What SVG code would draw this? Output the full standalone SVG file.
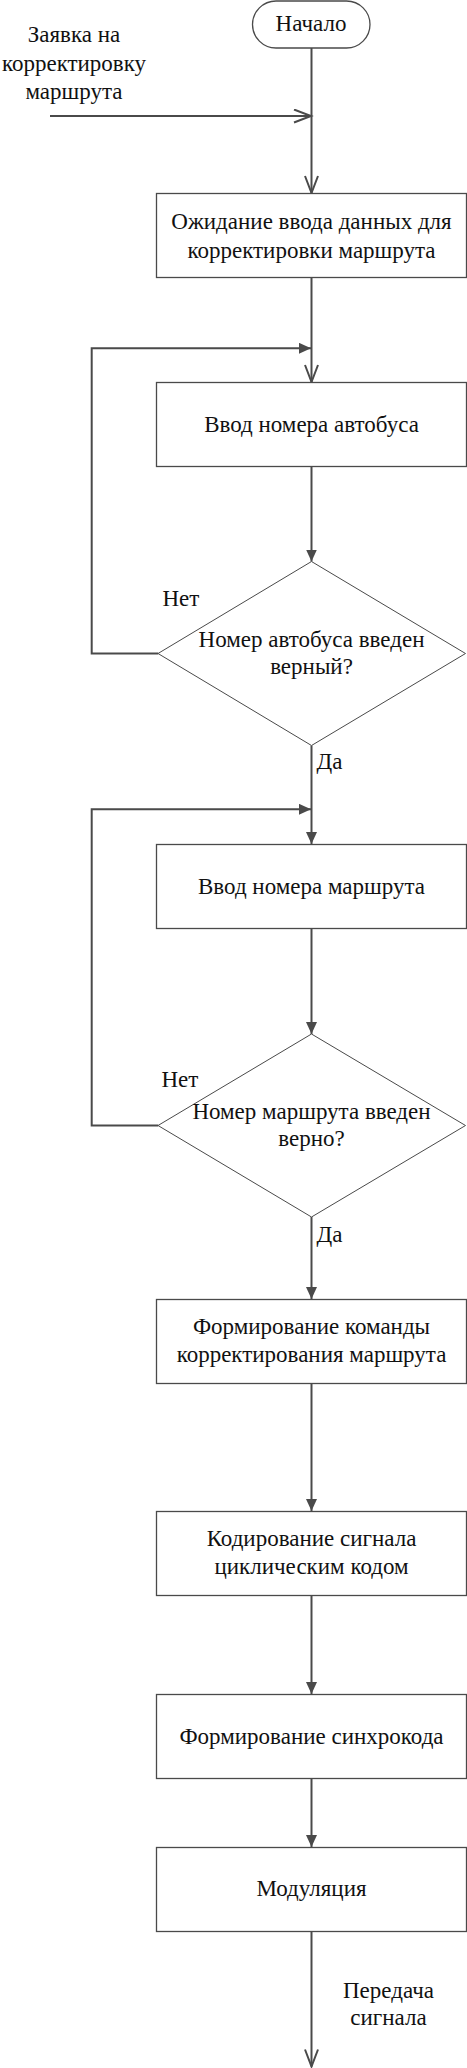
<svg xmlns="http://www.w3.org/2000/svg" width="467" height="2068" viewBox="0 0 467 2068">
<style>
text{font-family:"Liberation Serif","Times New Roman",serif;font-size:23px;fill:#111;}
.c{text-anchor:middle;}
.box{fill:#fff;stroke:#4a4a4a;stroke-width:1.3;}
.dia{fill:#fff;stroke:#4a4a4a;stroke-width:1;}
.ln{fill:none;stroke:#4a4a4a;stroke-width:2;}
</style>
<defs>
<marker id="open" markerUnits="userSpaceOnUse" markerWidth="22" markerHeight="18" refX="18" refY="7.5" orient="auto">
<path d="M1,1 L18,7.5 L1,14" fill="none" stroke="#4a4a4a" stroke-width="2"/>
</marker>
<marker id="fill" markerUnits="userSpaceOnUse" markerWidth="14" markerHeight="12" refX="12" refY="5.5" orient="auto">
<path d="M0,0 L12,5.5 L0,11 Z" fill="#4a4a4a"/>
</marker>
</defs>
<g id="connectors">
<path class="ln" d="M311.5,48 V193" marker-end="url(#open)"/>
<path class="ln" d="M50,116 H311" marker-end="url(#open)"/>
<path class="ln" d="M311.5,277.5 V382" marker-end="url(#open)"/>
<path class="ln" d="M158,653.5 H91.7 V348.3 H311" marker-end="url(#fill)"/>
<path class="ln" d="M311.5,466.5 V561.5" marker-end="url(#fill)"/>
<path class="ln" d="M311.5,745.5 V844" marker-end="url(#fill)"/>
<path class="ln" d="M158,1125.5 H91.7 V809.3 H311" marker-end="url(#fill)"/>
<path class="ln" d="M311.5,928.5 V1034" marker-end="url(#fill)"/>
<path class="ln" d="M311.5,1217 V1299" marker-end="url(#fill)"/>
<path class="ln" d="M311.5,1383.5 V1511" marker-end="url(#fill)"/>
<path class="ln" d="M311.5,1595.5 V1694" marker-end="url(#fill)"/>
<path class="ln" d="M311.5,1778.5 V1847" marker-end="url(#fill)"/>
<path class="ln" d="M311.5,1931.5 V2066.5" marker-end="url(#open)"/>
</g>
<g id="input-label">
<text class="c" x="74" y="42">Заявка на</text>
<text class="c" x="74" y="70.5">корректировку</text>
<text class="c" x="74" y="98.5">маршрута</text>
</g>
<g id="start">
<rect x="252.5" y="1" width="117.5" height="47" rx="23.5" class="box"/>
<text class="c" x="311" y="31">Начало</text>
</g>
<g id="wait">
<rect class="box" x="156.5" y="193.5" width="310" height="84"/>
<text class="c" x="311.5" y="229">Ожидание ввода данных для</text>
<text class="c" x="311.5" y="257.5">корректировки маршрута</text>
</g>
<g id="bus-input">
<rect class="box" x="156.5" y="382.5" width="310" height="84"/>
<text class="c" x="311.5" y="431.5">Ввод номера автобуса</text>
</g>
<g id="bus-check">
<polygon class="dia" points="311.5,561.5 465.5,653.5 311.5,745.5 158,653.5"/>
<text class="c" x="311.5" y="646.5">Номер автобуса введен</text>
<text class="c" x="311.5" y="674">верный?</text>
<text x="162.5" y="605.5">Нет</text>
<text x="316.5" y="769">Да</text>
</g>
<g id="route-input">
<rect class="box" x="156.5" y="844.5" width="310" height="84"/>
<text class="c" x="311.5" y="893.5">Ввод номера маршрута</text>
</g>
<g id="route-check">
<polygon class="dia" points="311.5,1034 465.5,1125.5 311.5,1217 158,1125.5"/>
<text class="c" x="311.5" y="1118.5">Номер маршрута введен</text>
<text class="c" x="311.5" y="1146">верно?</text>
<text x="161.5" y="1086.5">Нет</text>
<text x="316.5" y="1241.5">Да</text>
</g>
<g id="command">
<rect class="box" x="156.5" y="1299.5" width="310" height="84"/>
<text class="c" x="311.5" y="1334">Формирование команды</text>
<text class="c" x="311.5" y="1361.5">корректирования маршрута</text>
</g>
<g id="coding">
<rect class="box" x="156.5" y="1511.5" width="310" height="84"/>
<text class="c" x="311.5" y="1546">Кодирование сигнала</text>
<text class="c" x="311.5" y="1573.5">циклическим кодом</text>
</g>
<g id="sync">
<rect class="box" x="156.5" y="1694.5" width="310" height="84"/>
<text class="c" x="311.5" y="1743.5">Формирование синхрокода</text>
</g>
<g id="modulation">
<rect class="box" x="156.5" y="1847.5" width="310" height="84"/>
<text class="c" x="311.5" y="1896">Модуляция</text>
</g>
<g id="output-label">
<text class="c" x="388.5" y="1998">Передача</text>
<text class="c" x="388.5" y="2025">сигнала</text>
</g>
</svg>
